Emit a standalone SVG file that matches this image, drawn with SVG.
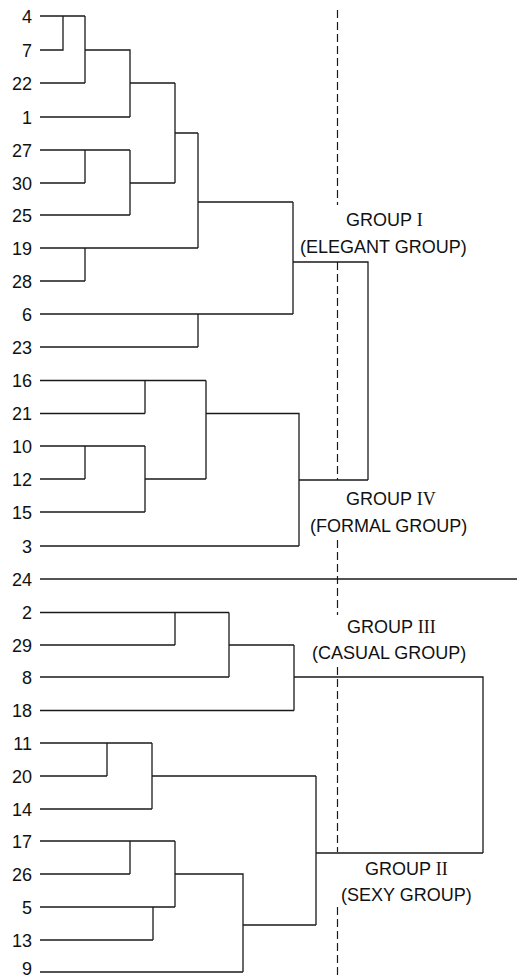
<svg xmlns="http://www.w3.org/2000/svg" width="517" height="977" viewBox="0 0 517 977">
<style>
.bg{fill:#fff}
.lbl{font-family:"Liberation Sans",Arial,sans-serif;font-size:18px;fill:#111;text-anchor:end}
.grp{font-family:"Liberation Sans",Arial,sans-serif;font-size:18px;fill:#111}
.rn{font-family:"Liberation Serif","Times New Roman",serif}
.ln{fill:none;stroke:#1a1a1a;stroke-width:1.3}
.cut{fill:none;stroke:#1a1a1a;stroke-width:1.2;stroke-dasharray:8 4}
</style>
<rect class="bg" x="0" y="0" width="517" height="977"/>
<g id="leaves">
<g id="n4"><text class="lbl" x="32" y="22.5">4</text></g>
<g id="n7"><text class="lbl" x="32" y="56.5">7</text></g>
<g id="n22"><text class="lbl" x="32" y="89.5">22</text></g>
<g id="n1"><text class="lbl" x="32" y="123.5">1</text></g>
<g id="n27"><text class="lbl" x="32" y="156.5">27</text></g>
<g id="n30"><text class="lbl" x="32" y="189.5">30</text></g>
<g id="n25"><text class="lbl" x="32" y="221.5">25</text></g>
<g id="n19"><text class="lbl" x="32" y="254.5">19</text></g>
<g id="n28"><text class="lbl" x="32" y="287.5">28</text></g>
<g id="n6"><text class="lbl" x="32" y="320.5">6</text></g>
<g id="n23"><text class="lbl" x="32" y="353.5">23</text></g>
<g id="n16"><text class="lbl" x="32" y="387">16</text></g>
<g id="n21"><text class="lbl" x="32" y="420">21</text></g>
<g id="n10"><text class="lbl" x="32" y="452.5">10</text></g>
<g id="n12"><text class="lbl" x="32" y="485.5">12</text></g>
<g id="n15"><text class="lbl" x="32" y="518.5">15</text></g>
<g id="n3"><text class="lbl" x="32" y="552.5">3</text></g>
<g id="n24"><text class="lbl" x="32" y="585.5">24</text></g>
<g id="n2"><text class="lbl" x="32" y="619">2</text></g>
<g id="n29"><text class="lbl" x="32" y="651.5">29</text></g>
<g id="n8"><text class="lbl" x="32" y="683.5">8</text></g>
<g id="n18"><text class="lbl" x="32" y="717">18</text></g>
<g id="n11"><text class="lbl" x="32" y="749.5">11</text></g>
<g id="n20"><text class="lbl" x="32" y="782.5">20</text></g>
<g id="n14"><text class="lbl" x="32" y="815.5">14</text></g>
<g id="n17"><text class="lbl" x="32" y="847.5">17</text></g>
<g id="n26"><text class="lbl" x="32" y="880.5">26</text></g>
<g id="n5"><text class="lbl" x="32" y="913.5">5</text></g>
<g id="n13"><text class="lbl" x="32" y="946.5">13</text></g>
<g id="n9"><text class="lbl" x="32" y="974.5">9</text></g>
</g>
<g id="groups">
<g id="group1"><text class="grp" x="346" y="226">GROUP <tspan class="rn">I</tspan></text><text class="grp" x="300" y="253">(ELEGANT GROUP)</text></g>
<g id="group4"><text class="grp" x="346" y="505">GROUP <tspan class="rn">IV</tspan></text><text class="grp" x="310" y="532">(FORMAL GROUP)</text></g>
<g id="group3"><text class="grp" x="347" y="633">GROUP <tspan class="rn">III</tspan></text><text class="grp" x="312" y="659">(CASUAL GROUP)</text></g>
<g id="group2"><text class="grp" x="365" y="875">GROUP <tspan class="rn">II</tspan></text><text class="grp" x="341" y="901">(SEXY GROUP)</text></g>
</g>
<g id="connectors">
<path class="ln" d="M40,16 H85 M40,50 H63 V16 M40,83 H85 M85,16 V83 M85,50 H130 V117 M40,117 H130 M130,83 H175 M40,150 H130 M85,150 V183 M40,183 H85 M130,150 V215 M40,215 H130 M130,183 H175 M175,83 V183 M175,133 H198 M40,248 H198 M85,248 V281 M40,281 H85 M198,133 V248 M198,202 H293 M40,314 H293 M198,314 V347 M40,347 H198 M293,202 V314 M293,262 H368 V480"/>
<path class="ln" d="M40,380.5 H206 M40,413.5 H145 M145,380.5 V413.5 M40,446 H145 M40,479 H85 M85,446 V479 M40,512 H145 M145,446 V512 M145,479 H206 M206,380.5 V479 M206,413.5 H299 V546 M40,546 H299 M299,480 H368"/>
<path class="ln" d="M40,579 H517"/>
<path class="ln" d="M40,612.5 H229 M40,645 H175 M175,612.5 V645 M229,612.5 V677 M40,677 H229 M229,645 H294 M294,645 V710.5 M40,710.5 H294 M294,677 H483 V853"/>
<path class="ln" d="M40,743 H152 M40,776 H107 M107,743 V776 M40,809 H152 M152,743 V809 M152,776 H316 M40,841 H175 M40,874 H130 M130,841 V874 M40,907 H175 M40,940 H153 M153,907 V940 M175,841 V907 M175,874 H243 V972 M40,972 H243 M243,925 H316 M316,776 V925 M316,853 H483"/>
<path class="cut" d="M337.5,10 V205 M337.5,262 V480 M337.5,540 V615 M337.5,667 V852 M337.5,907 V977"/>
</g>
</svg>
